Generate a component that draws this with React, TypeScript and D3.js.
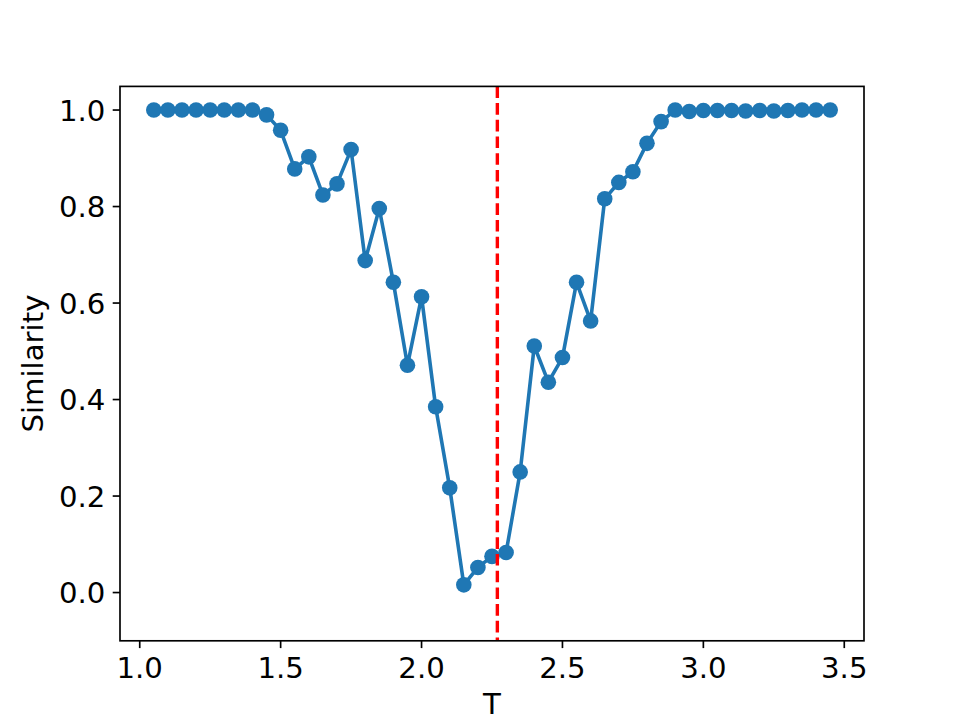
import React from "react";
import * as d3 from "d3";

const temps: number[] = [
  1.05, 1.1, 1.15, 1.2, 1.25, 1.3, 1.35, 1.4, 1.45, 1.5,
  1.55, 1.6, 1.65, 1.7, 1.75, 1.8, 1.85, 1.9, 1.95, 2.0,
  2.05, 2.1, 2.15, 2.2, 2.25, 2.3, 2.35, 2.4, 2.45, 2.5,
  2.55, 2.6, 2.65, 2.7, 2.75, 2.8, 2.85, 2.9, 2.95, 3.0,
  3.05, 3.1, 3.15, 3.2, 3.25, 3.3, 3.35, 3.4, 3.45,
];
const similarity: number[] = [
  1.0, 1.0, 1.0, 1.0, 1.0, 1.0, 1.0, 1.0, 0.99, 0.958,
  0.878, 0.903, 0.824, 0.847, 0.918, 0.688, 0.796, 0.643, 0.471, 0.613,
  0.385, 0.217, 0.016, 0.052, 0.075, 0.083, 0.25, 0.511, 0.436, 0.487,
  0.643, 0.563, 0.816, 0.85, 0.872, 0.931, 0.976, 1.0, 0.997, 0.999,
  0.999, 0.999, 0.998, 0.999, 0.998, 0.999, 1.0, 1.0, 1.0,
];
const criticalT = 2.269;
const xTicks: number[] = [1.0, 1.5, 2.0, 2.5, 3.0, 3.5];
const yTicks: number[] = [0.0, 0.2, 0.4, 0.6, 0.8, 1.0];
const xLabel = "T";
const yLabel = "Similarity";

const W = 960;
const H = 720;
const L = 120;
const R = 864;
const T = 86.4;
const B = 640.8;
const FONT = "DejaVu Sans, sans-serif";
const FS = 29.2;

export default function App() {
  const x = d3.scaleLinear().domain([0.93, 3.57]).range([L, R]);
  const y = d3.scaleLinear().domain([-0.1, 1.049]).range([B, T]);
  const pts = temps.map((t, i) => [t, similarity[i]] as [number, number]);
  const line = d3
    .line<[number, number]>()
    .x((d) => x(d[0]))
    .y((d) => y(d[1]));
  const tickLen = 7.3;
  const sw = 1.67;
  return (
    <svg
      width={W}
      height={H}
      style={{ position: "absolute", left: 0, top: 0, background: "#fff" }}
      fontFamily={FONT}
    >
      <rect x={0} y={0} width={W} height={H} fill="#fff" />
      <defs>
        <clipPath id="ax">
          <rect x={L} y={T} width={R - L} height={B - T} />
        </clipPath>
      </defs>
      <g clipPath="url(#ax)">
        <path
          d={line(pts) || ""}
          fill="none"
          stroke="#1f77b4"
          strokeWidth={3.6}
          strokeLinejoin="round"
          strokeLinecap="square"
        />
        {pts.map((d, i) => (
          <circle key={i} cx={x(d[0])} cy={y(d[1])} r={7.8} fill="#1f77b4" />
        ))}
        <line
          x1={x(criticalT)}
          x2={x(criticalT)}
          y1={T}
          y2={B}
          stroke="#ff0000"
          strokeWidth={3.4}
          strokeDasharray="11.6 5.1"
        />
      </g>
      <rect
        x={L}
        y={T}
        width={R - L}
        height={B - T}
        fill="none"
        stroke="#000"
        strokeWidth={sw}
      />
      {xTicks.map((t) => (
        <g key={"x" + t}>
          <line x1={x(t)} x2={x(t)} y1={B} y2={B + tickLen} stroke="#000" strokeWidth={sw} />
          <text x={x(t)} y={678} textAnchor="middle" fontSize={FS} fill="#000">
            {t.toFixed(1)}
          </text>
        </g>
      ))}
      {yTicks.map((t) => (
        <g key={"y" + t}>
          <line x1={L - tickLen} x2={L} y1={y(t)} y2={y(t)} stroke="#000" strokeWidth={sw} />
          <text
            x={L - 14.6}
            y={y(t) + 10.8}
            textAnchor="end"
            fontSize={FS}
            fill="#000"
          >
            {t.toFixed(1)}
          </text>
        </g>
      ))}
      <text x={(L + R) / 2} y={714} textAnchor="middle" fontSize={FS} fill="#000">
        {xLabel}
      </text>
      <text
        transform={`translate(43.3, ${(T + B) / 2}) rotate(-90)`}
        textAnchor="middle"
        fontSize={FS}
        fill="#000"
      >
        {yLabel}
      </text>
    </svg>
  );
}
